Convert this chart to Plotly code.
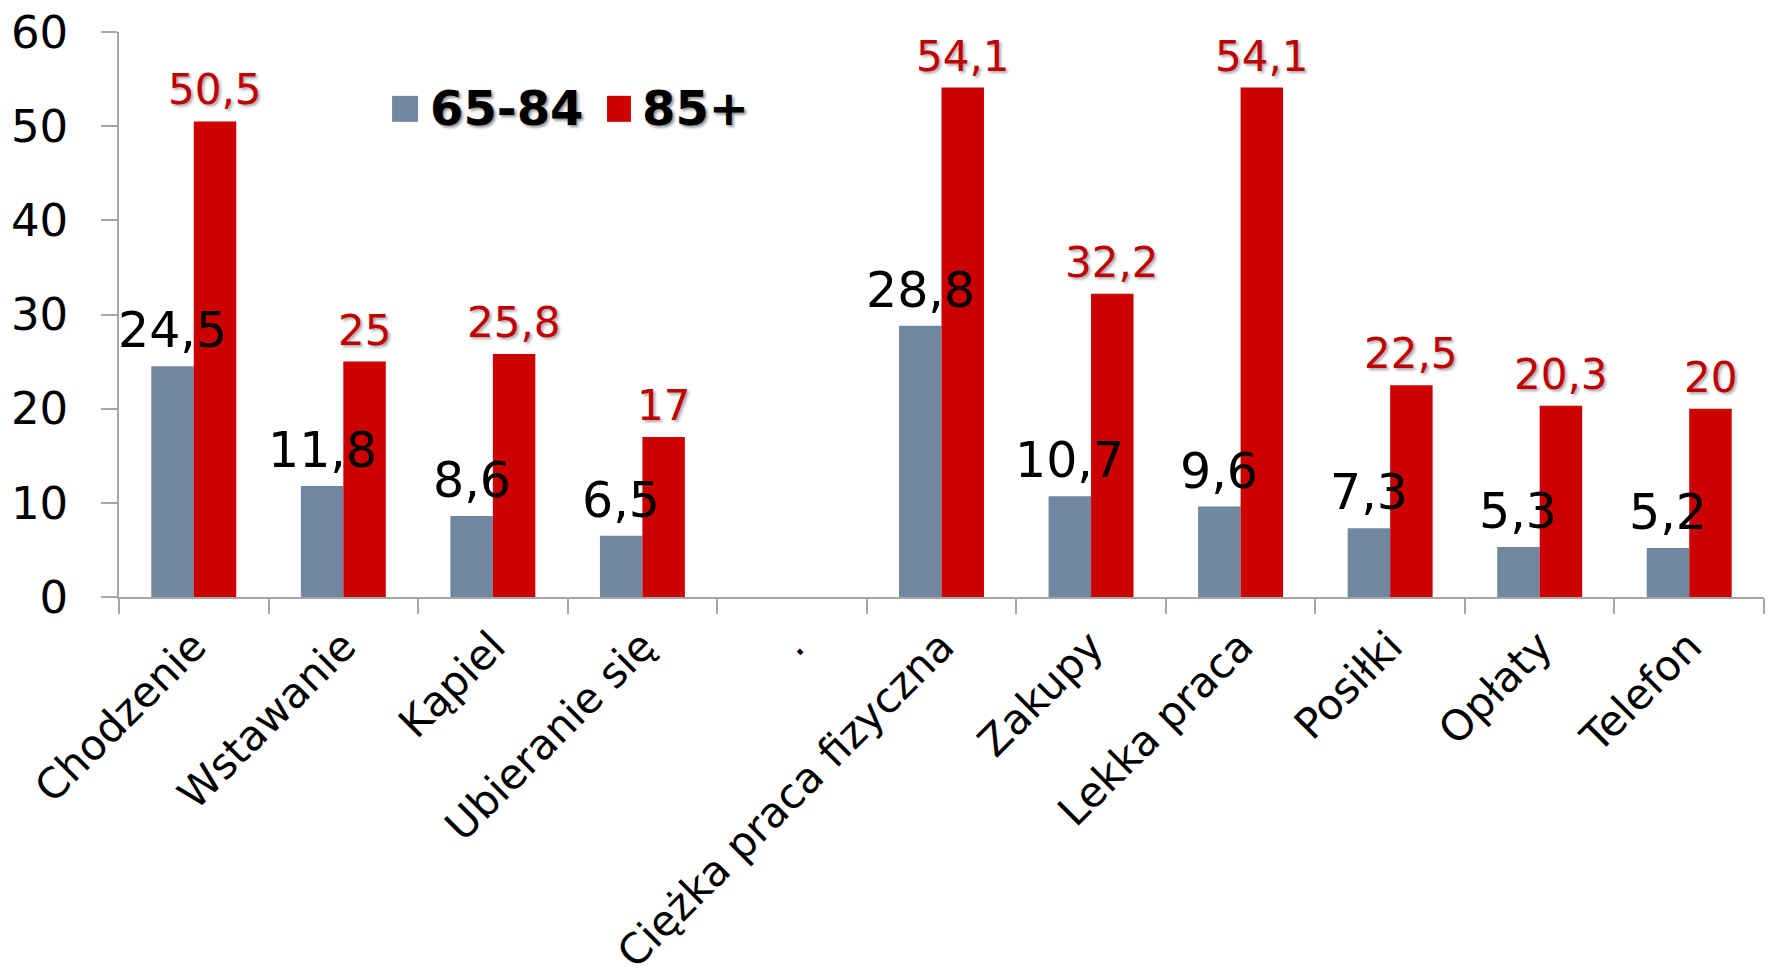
import plotly.graph_objects as go

categories = ["Chodzenie", "Wstawanie", "Kąpiel", "Ubieranie się", ".",
              "Ciężka praca fizyczna", "Zakupy", "Lekka praca", "Posiłki",
              "Opłaty", "Telefon"]
values_65_84 = [24.5, 11.8, 8.6, 6.5, None, 28.8, 10.7, 9.6, 7.3, 5.3, 5.2]
values_85 = [50.5, 25, 25.8, 17, None, 54.1, 32.2, 54.1, 22.5, 20.3, 20]
series_names = ["65-84", "85+"]
y_ticks = [0, 10, 20, 30, 40, 50, 60]

GRAY = "#6F87A0"
RED = "#CC0000"
FONT = "DejaVu Sans"
AXIS = "#A6A6A6"
BARGAP = 0.432
BW = (1 - BARGAP) / 2  # width of one bar in category units


def fmt(v):
    return f"{v:g}".replace(".", ",")


fig = go.Figure()
fig.add_trace(go.Bar(
    x=categories, y=values_65_84, name=series_names[0],
    marker=dict(color=GRAY, line=dict(width=0)), showlegend=False,
))
fig.add_trace(go.Bar(
    x=categories, y=values_85, name=series_names[1],
    marker=dict(color=RED, line=dict(width=0)), showlegend=False,
))

# data labels (annotations so the black labels sit above the red bars)
for i, v in enumerate(values_65_84):
    if v is None:
        continue
    fig.add_annotation(x=i - BW / 2, y=v, xref="x", yref="y", text=fmt(v),
                       showarrow=False, xanchor="center", yanchor="bottom",
                       yshift=5,
                       font=dict(family=FONT, size=49, color="black"))
for i, v in enumerate(values_85):
    if v is None:
        continue
    fig.add_annotation(x=i + BW / 2, y=v, xref="x", yref="y", text=fmt(v),
                       showarrow=False, xanchor="center", yanchor="bottom",
                       yshift=5,
                       font=dict(family=FONT, size=42, color="#C00000",
                                 shadow="2px 2px 3px rgba(0,0,0,0.35)"))

# legend (drawn manually for the large square keys)
leg_font = dict(family=FONT, size=48, color="black",
                shadow="2px 2px 3px rgba(0,0,0,0.45)")
fig.add_shape(type="rect", xref="paper", yref="paper",
              x0=0.166, x1=0.1818, y0=0.841, y1=0.887,
              fillcolor=GRAY, line=dict(width=0))
fig.add_shape(type="rect", xref="paper", yref="paper",
              x0=0.2967, x1=0.3112, y0=0.841, y1=0.887,
              fillcolor=RED, line=dict(width=0))
fig.add_annotation(text=f"<b>{series_names[0]}</b>", xref="paper", yref="paper",
                   x=0.188, y=0.866, xanchor="left", yanchor="middle",
                   showarrow=False, font=leg_font)
fig.add_annotation(text=f"<b>{series_names[1]}</b>", xref="paper", yref="paper",
                   x=0.317, y=0.866, xanchor="left", yanchor="middle",
                   showarrow=False, font=leg_font)

fig.update_layout(
    width=1773, height=977,
    margin=dict(l=119, r=9, t=32, b=380),
    paper_bgcolor="white", plot_bgcolor="white",
    barmode="group", bargap=BARGAP, bargroupgap=0,
    font=dict(family=FONT, color="black"),
    showlegend=False,
)
fig.update_xaxes(
    type="category", categoryorder="array", categoryarray=categories,
    range=[-0.5, len(categories) - 0.5], automargin=False,
    showline=True, linecolor=AXIS, linewidth=1.5,
    ticks="outside", tickson="boundaries", ticklen=15, tickcolor=AXIS, tickwidth=1.5,
    tickangle=-45, tickfont=dict(family=FONT, size=42, color="black"),
    ticklabelstandoff=6, showgrid=False, zeroline=False,
)
fig.update_yaxes(
    range=[0, 60], tickvals=y_ticks, automargin=False,
    showline=True, linecolor=AXIS, linewidth=1.5,
    ticks="outside", ticklen=16, tickcolor=AXIS, tickwidth=1.5,
    tickfont=dict(family=FONT, size=45, color="black"),
    ticklabelstandoff=24, showgrid=False, zeroline=False,
)

fig.write_html("out.html")
